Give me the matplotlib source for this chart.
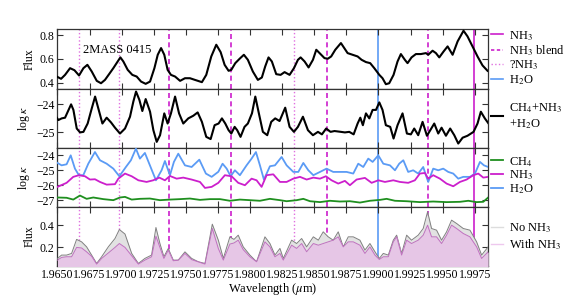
import matplotlib
matplotlib.use("Agg")
import matplotlib.pyplot as plt
from matplotlib.ticker import FormatStrFormatter

plt.rcParams['font.family'] = ['Liberation Serif', 'DejaVu Serif']
plt.rcParams['mathtext.fontset'] = 'stix'
plt.rcParams['axes.unicode_minus'] = True

# ---------------- data ----------------
# Panel 1: observed flux of 2MASS 0415
W1 = [1.96494,1.96528,1.96559,1.96598,1.96632,1.96668,1.96702,1.96733,1.96767,1.96806,
      1.96839,1.96870,1.96902,1.96935,1.96969,1.96990,1.97013,1.97047,1.97083,1.97117,
      1.97151,1.97187,1.97221,1.97255,1.97281,1.97307,1.97332,1.97358,1.97384,1.97416,
      1.97455,1.97493,1.97532,1.97571,
      1.97594,1.97625,1.97659,1.97698,1.97737,1.97771,1.97802,1.97833,1.97854,1.97885,
      1.97919,1.97952,1.97983,1.98022,1.98061,1.98092,1.98118,1.98144,1.98170,1.98204,
      1.98238,1.98269,1.98308,1.98342,1.98373,1.98394,1.98425,1.98456,1.98490,1.98516,
      1.98549,1.98580,1.98606,1.98632,1.98664,
      1.98708,1.98734,1.98760,1.98799,1.98838,1.98869,1.98903,1.98936,1.98968,1.99007,
      1.99032,1.99058,1.99084,1.99118,1.99149,1.99175,1.99206,1.99227,1.99258,1.99292,
      1.99331,1.99370,1.99388,1.99422,1.99448,1.99474,1.99508,1.99539,1.99578,1.99617,
      1.99663,1.99694,1.99733,1.99772,1.99811,1.99850]
F1 = [0.453,0.434,0.467,0.523,0.506,0.462,0.523,0.551,0.495,0.417,
      0.397,0.425,0.473,0.523,0.579,0.613,0.579,0.509,0.467,0.453,
      0.411,0.392,0.411,0.523,0.635,0.691,0.635,0.509,0.467,0.453,
      0.417,0.439,0.439,0.425,
      0.417,0.406,0.467,0.621,0.719,0.657,0.551,0.501,0.509,0.565,
      0.602,0.635,0.593,0.495,0.425,0.445,0.537,0.613,0.579,0.473,
      0.467,0.490,0.467,0.523,0.593,0.613,0.579,0.529,0.593,0.677,
      0.641,0.607,0.602,0.621,0.677,
      0.733,0.691,0.649,0.635,0.621,0.593,0.574,0.565,0.523,0.467,
      0.439,0.389,0.397,0.467,0.579,0.641,0.593,0.565,0.613,0.641,
      0.641,0.649,0.635,0.669,0.649,0.613,0.663,0.705,0.635,0.747,
      0.836,0.789,0.705,0.621,0.546,0.501]

# Panel 2: total opacity CH4+NH3+H2O
W2 = [1.96489,1.96507,1.96533,1.96559,1.96606,1.96624,1.96650,1.96676,1.96702,1.96735,
      1.96767,1.96793,1.96818,1.96850,1.96883,1.96917,1.96948,1.96987,1.97026,1.97065,
      1.97091,1.97112,1.97138,1.97161,1.97187,1.97221,1.97247,1.97273,1.97299,1.97332,
      1.97358,1.97384,1.97416,1.97447,1.97480,1.97519,1.97558,1.97592,
      1.97625,1.97659,1.97693,1.97724,1.97755,1.97781,1.97807,1.97833,1.97854,1.97880,
      1.97900,1.97926,1.97957,1.97983,1.98015,1.98041,1.98066,1.98100,1.98134,1.98165,
      1.98196,1.98230,1.98274,1.98308,1.98342,1.98373,1.98412,1.98451,1.98490,1.98529,
      1.98560,1.98593,1.98627,1.98658,
      1.98708,1.98739,1.98773,1.98807,1.98838,1.98859,1.98879,1.98903,1.98929,1.98955,
      1.98981,1.99007,1.99032,1.99058,1.99092,1.99118,1.99149,1.99188,1.99222,1.99253,
      1.99279,1.99310,1.99344,1.99378,1.99404,1.99435,1.99466,1.99492,1.99526,1.99559,
      1.99591,1.99622,1.99656,1.99694,1.99741,1.99772,1.99798,1.99829,1.99858]
K_TOT = [-24.445,-24.565,-24.505,-24.48,-24.00,-24.20,-24.87,-25.01,-24.99,-24.69,
         -24.145,-23.72,-24.145,-24.69,-24.48,-24.65,-24.84,-25.05,-24.87,-24.445,
         -23.90,-23.54,-23.84,-24.24,-23.81,-24.265,-24.93,-25.35,-25.11,-24.325,
         -24.69,-24.325,-23.72,-24.325,-24.69,-24.505,-24.41,-24.29,
         -24.63,-25.17,-25.25,-24.75,-24.69,-24.505,-24.69,-24.93,-25.05,-24.81,
         -24.93,-25.17,-24.81,-24.69,-24.325,-23.72,-24.265,-24.99,-25.11,-24.63,
         -24.505,-24.60,-24.12,-24.81,-24.99,-24.81,-24.445,-24.93,-25.11,-24.99,
         -25.08,-24.87,-24.99,-24.96,
         -24.99,-25.01,-24.99,-25.08,-24.69,-24.48,-24.75,-24.325,-24.505,-24.20,
         -24.20,-23.93,-24.20,-24.75,-24.81,-25.23,-24.75,-24.325,-25.05,-25.08,
         -24.87,-25.11,-24.63,-25.13,-24.93,-24.69,-25.05,-24.84,-25.13,-24.87,
         -25.11,-25.41,-25.20,-25.13,-24.99,-24.69,-24.265,-24.505,-24.69]

# Panel 3: individual opacities
W_H2O = [1.96500,1.96532,1.96571,1.96603,1.96636,1.96667,1.96701,1.96740,1.96792,1.96831,
         1.96883,1.96935,1.96982,1.97033,1.97072,1.97111,1.97142,1.97181,1.97220,1.97267,
         1.97311,1.97337,1.97376,1.97407,1.97441,1.97493,1.97545,1.97605,1.97656,1.97701,
         1.97753,1.97786,1.97818,1.97849,1.97882,1.97921,1.97973,1.98012,1.98046,1.98077,
         1.98108,1.98155,1.98194,
         1.98246,1.98285,1.98337,1.98376,1.98415,1.98454,1.98493,1.98545,1.98596,1.98648,
         1.98700,1.98752,1.98804,1.98843,1.98882,1.98921,1.98955,1.98999,1.99038,1.99090,
         1.99129,1.99162,1.99194,1.99232,1.99271,1.99310,1.99349,1.99388,1.99427,1.99466,
         1.99505,1.99544,1.99583,1.99622,1.99661,1.99713,1.99752,1.99791,1.99822,1.99855]
K_H2O = [-24.51,-24.67,-24.60,-24.00,-24.89,-25.33,-25.33,-24.56,-23.78,-24.33,
         -24.56,-24.89,-25.40,-24.78,-24.33,-23.55,-24.22,-23.84,-24.67,-25.67,
         -25.00,-24.38,-25.33,-24.44,-23.89,-24.67,-24.78,-24.29,-25.22,-25.44,
         -25.10,-24.56,-24.89,-25.40,-25.00,-25.33,-24.67,-24.22,-23.78,-24.67,
         -25.62,-24.73,-24.67,
         -24.11,-24.67,-25.11,-25.11,-24.51,-25.00,-25.33,-25.11,-24.89,-25.11,
         -25.11,-25.11,-25.22,-24.56,-24.78,-24.22,-24.44,-24.00,-24.56,-24.67,
         -25.00,-24.56,-24.33,-25.11,-25.00,-25.22,-24.78,-25.78,-24.89,-25.00,
         -24.89,-25.11,-25.22,-25.56,-25.44,-25.44,-25.22,-24.44,-24.67,-24.78]

W_NH3 = [1.96500,1.96571,1.96623,1.96667,1.96714,1.96753,1.96792,1.96831,1.96883,1.96948,
         1.96974,1.97026,1.97078,1.97130,1.97194,1.97246,1.97293,1.97337,1.97376,1.97428,
         1.97480,1.97545,1.97610,1.97649,1.97701,1.97753,1.97804,1.97856,1.97908,1.97960,
         1.98012,1.98051,1.98090,1.98129,1.98181,1.98233,
         1.98285,1.98337,1.98389,1.98441,1.98493,1.98545,1.98591,1.98635,1.98687,1.98739,
         1.98778,1.98830,1.98895,1.98947,1.98999,1.99051,1.99116,1.99168,1.99232,1.99284,
         1.99323,1.99362,1.99388,1.99427,1.99479,1.99531,1.99583,1.99635,1.99687,1.99739,
         1.99778,1.99817,1.99855]
K_NH3 = [-26.11,-25.84,-25.44,-25.33,-25.40,-25.62,-25.60,-25.78,-25.96,-25.93,
         -25.56,-25.22,-25.40,-25.67,-25.78,-25.67,-25.49,-25.67,-25.38,-25.56,
         -25.49,-25.62,-25.78,-26.18,-26.11,-25.84,-25.33,-25.40,-25.84,-26.00,
         -25.56,-25.67,-26.11,-25.33,-25.27,-25.78,
         -25.78,-25.56,-25.44,-25.62,-25.49,-25.56,-25.40,-25.67,-25.89,-25.71,
         -26.00,-25.62,-25.51,-25.84,-25.67,-25.78,-25.67,-25.78,-25.84,-25.67,
         -25.22,-25.18,-25.56,-25.33,-25.56,-25.89,-26.07,-25.78,-25.62,-25.33,
         -25.22,-25.49,-25.44]

W_CH4 = [1.96500,1.96571,1.96623,1.96675,1.96727,1.96779,1.96857,1.96935,1.96987,1.97026,
         1.97078,1.97142,1.97220,1.97298,1.97376,1.97454,1.97532,1.97610,1.97688,1.97766,
         1.97843,1.97921,1.97999,1.98077,1.98155,1.98233,
         1.98285,1.98363,1.98415,1.98467,1.98545,1.98622,1.98700,1.98778,1.98856,1.98934,
         1.99012,1.99064,1.99129,1.99220,1.99323,1.99427,1.99531,1.99635,1.99700,1.99765,
         1.99817,1.99855]
K_CH4 = [-26.82,-26.84,-26.96,-26.69,-26.91,-26.82,-26.93,-27.00,-26.82,-26.78,
         -26.96,-26.91,-26.89,-27.00,-26.96,-26.93,-26.89,-26.98,-26.93,-26.93,
         -27.04,-26.96,-27.00,-27.04,-26.91,-27.00,
         -27.07,-27.00,-26.91,-27.07,-27.13,-27.04,-27.09,-27.07,-27.16,-27.04,
         -26.98,-26.91,-27.04,-27.07,-27.13,-27.09,-27.13,-27.11,-27.04,-27.13,
         -27.11,-26.82]

# Panel 4: model spectra
W4 = [1.96500,1.96532,1.96571,1.96610,1.96649,1.96688,1.96727,1.96766,1.96805,1.96844,
      1.96896,1.96948,1.96982,1.97026,1.97078,1.97130,1.97181,1.97233,1.97267,1.97298,
      1.97329,1.97363,1.97402,1.97441,1.97493,1.97545,1.97597,1.97649,1.97706,1.97753,
      1.97792,1.97843,1.97875,1.97908,1.97947,1.97999,1.98051,1.98116,1.98155,1.98194,
      1.98233,1.98259,1.98324,1.98363,1.98402,1.98441,1.98493,1.98532,1.98570,1.98609,
      1.98648,1.98687,1.98726,1.98765,1.98804,1.98856,1.98895,1.98934,1.98973,1.99007,
      1.99038,1.99077,1.99116,1.99142,1.99181,1.99220,1.99258,1.99310,1.99349,1.99383,
      1.99414,1.99453,1.99492,1.99531,1.99570,1.99609,1.99661,1.99713,1.99765,1.99804,
      1.99855]
NO_NH3 = [0.101,0.131,0.131,0.146,0.272,0.250,0.205,0.131,0.056,0.116,
          0.205,0.280,0.361,0.320,0.146,0.056,0.101,0.131,0.379,0.235,
          0.116,0.190,0.086,0.086,0.160,0.101,0.071,0.056,0.409,0.265,
          0.101,0.295,0.272,0.310,0.205,0.131,0.071,0.295,0.235,0.131,
          0.191,0.101,0.265,0.235,0.280,0.205,0.295,0.265,0.340,0.295,
          0.265,0.340,0.205,0.295,0.295,0.265,0.176,0.235,0.161,0.101,
          0.146,0.131,0.265,0.310,0.146,0.310,0.265,0.310,0.370,0.520,
          0.370,0.355,0.265,0.340,0.445,0.415,0.370,0.355,0.250,0.131,
          0.205]
WITH_NH3 = [0.086,0.110,0.116,0.116,0.200,0.195,0.160,0.120,0.050,0.101,
            0.150,0.200,0.235,0.200,0.125,0.050,0.086,0.116,0.301,0.200,
            0.101,0.175,0.080,0.085,0.146,0.090,0.070,0.050,0.370,0.190,
            0.086,0.230,0.240,0.265,0.180,0.116,0.071,0.250,0.205,0.116,
            0.146,0.086,0.220,0.191,0.235,0.161,0.235,0.220,0.235,0.250,
            0.265,0.295,0.205,0.250,0.250,0.220,0.146,0.205,0.131,0.092,
            0.116,0.116,0.250,0.295,0.131,0.265,0.235,0.265,0.310,0.400,
            0.295,0.295,0.235,0.310,0.400,0.370,0.325,0.295,0.205,0.101,
            0.161]

# line identifications (wavelength, micron)
NH3_LINES = [1.99744]
NH3_BLEND = [1.97371, 1.97851, 1.98597, 1.99383]
NH3_UNSURE = [1.96667, 1.96981, 1.98342]
H2O_LINES = [1.99000]

XTICKS = [1.9650,1.9675,1.9700,1.9725,1.9750,1.9775,1.9800,1.9825,1.9850,1.9875,
          1.9900,1.9925,1.9950,1.9975]

# ---------------- style ----------------
MAG = '#cc1fcc'
MAG_DOT = '#e070e0'
BLUE = '#5b9bf5'
GREEN = '#1f8f1f'
FS = 8.5
LFS = 9

fig, axes = plt.subplots(4, 1, figsize=(5.68, 2.96), dpi=100, sharex=True)
fig.subplots_adjust(left=0.1012, right=0.859, top=0.901, bottom=0.101, hspace=0)

def add_lines(ax):
    for w in NH3_UNSURE:
        ax.axvline(w, color=MAG_DOT, ls=':', lw=1.0, zorder=1)
    for w in NH3_BLEND:
        ax.axvline(w, color=MAG, ls=(0, (3, 2)), lw=1.2, zorder=1)
    for w in H2O_LINES:
        ax.axvline(w, color=BLUE, ls='-', lw=1.2, zorder=1)
    for w in NH3_LINES:
        ax.axvline(w, color=MAG, ls='-', lw=1.2, zorder=1)

LEG = dict(frameon=False, fontsize=LFS, handlelength=1.0, handletextpad=0.45,
           borderpad=0.0, borderaxespad=0.0)

ax1, ax2, ax3, ax4 = axes
for ax in axes:
    add_lines(ax)

# Panel 1
ax1.plot(W1, F1, color='black', lw=1.5, zorder=3, solid_joinstyle='round')
ax1.set_ylim(0.353, 0.848)
ax1.set_yticks([0.4, 0.6, 0.8])
ax1.yaxis.set_major_formatter(FormatStrFormatter('%.1f'))
ax1.set_ylabel('Flux', fontsize=FS, labelpad=3)
ax1.text(0.059, 0.65, '2MASS 0415', transform=ax1.transAxes, fontsize=LFS, va='center', ha='left')
h = [plt.Line2D([], [], color=MAG, ls='-', lw=1.2),
     plt.Line2D([], [], color=MAG, ls=(0, (2, 1.5)), lw=1.2),
     plt.Line2D([], [], color=MAG_DOT, ls=':', lw=1.0),
     plt.Line2D([], [], color=BLUE, ls='-', lw=1.2)]
ax1.legend(h, ['NH$_3$', 'NH$_3$ blend', '?NH$_3$', 'H$_2$O'], loc='upper left',
           bbox_to_anchor=(1.007, 1.01), labelspacing=0.05, **LEG)

# Panel 2
ax2.plot(W2, K_TOT, color='black', lw=1.5, zorder=3, solid_joinstyle='round',
         label='CH$_4$+NH$_3$\n+H$_2$O')
ax2.set_ylim(-25.56, -23.43)
ax2.set_yticks([-25, -24])
ax2.set_ylabel(r'log $\kappa$', fontsize=FS, labelpad=3)
ax2.legend(loc='center left', bbox_to_anchor=(1.007, 0.53), **LEG)

# Panel 3
ax3.plot(W_H2O, K_H2O, color=BLUE, lw=1.3, zorder=3, solid_joinstyle='round')
ax3.plot(W_NH3, K_NH3, color=MAG, lw=1.3, zorder=3, solid_joinstyle='round')
ax3.plot(W_CH4, K_CH4, color=GREEN, lw=1.3, zorder=3, solid_joinstyle='round')
ax3.set_ylim(-27.45, -23.49)
ax3.set_yticks([-27, -26, -25, -24])
ax3.set_ylabel(r'log $\kappa$', fontsize=FS, labelpad=3)
h3 = [plt.Line2D([], [], color=GREEN, lw=1.3), plt.Line2D([], [], color=MAG, lw=1.3),
      plt.Line2D([], [], color=BLUE, lw=1.3)]
ax3.legend(h3, ['CH$_4$', 'NH$_3$', 'H$_2$O'], loc='center left', bbox_to_anchor=(1.007, 0.53),
           labelspacing=0.0, **LEG)

# Panel 4
ax4.fill_between(W4, 0, NO_NH3, color='#e2e2e2', lw=0, zorder=2)
ax4.plot(W4, NO_NH3, color='#808080', lw=0.7, zorder=3)
ax4.fill_between(W4, 0, WITH_NH3, color='#e6c6e6', lw=0, zorder=4)
ax4.plot(W4, WITH_NH3, color='#c070c0', lw=0.7, zorder=5)
ax4.set_ylim(0.032, 0.564)
ax4.set_yticks([0.2, 0.4])
ax4.yaxis.set_major_formatter(FormatStrFormatter('%.1f'))
ax4.set_ylabel('Flux', fontsize=FS, labelpad=3)
h4 = [plt.Line2D([], [], color='#dddddd', lw=1.0), plt.Line2D([], [], color='#eec8ee', lw=1.0)]
ax4.legend(h4, ['No NH$_3$', 'With NH$_3$'], loc='center left', bbox_to_anchor=(1.007, 0.5),
           labelspacing=0.2, **LEG)

ax4.set_xlim(1.965, 1.99853)
ax4.set_xticks(XTICKS)
ax4.xaxis.set_major_formatter(FormatStrFormatter('%.4f'))
ax4.set_xlabel(r'Wavelength ($\mu$m)', fontsize=LFS, labelpad=0)

for ax in axes:
    ax.tick_params(direction='in', top=True, right=True, labelsize=FS, length=4, width=0.8,
                   pad=2, color='#333333')
    for s in ax.spines.values():
        s.set_color('#333333')
        s.set_linewidth(0.9)

fig.savefig('out.png', dpi=100)
